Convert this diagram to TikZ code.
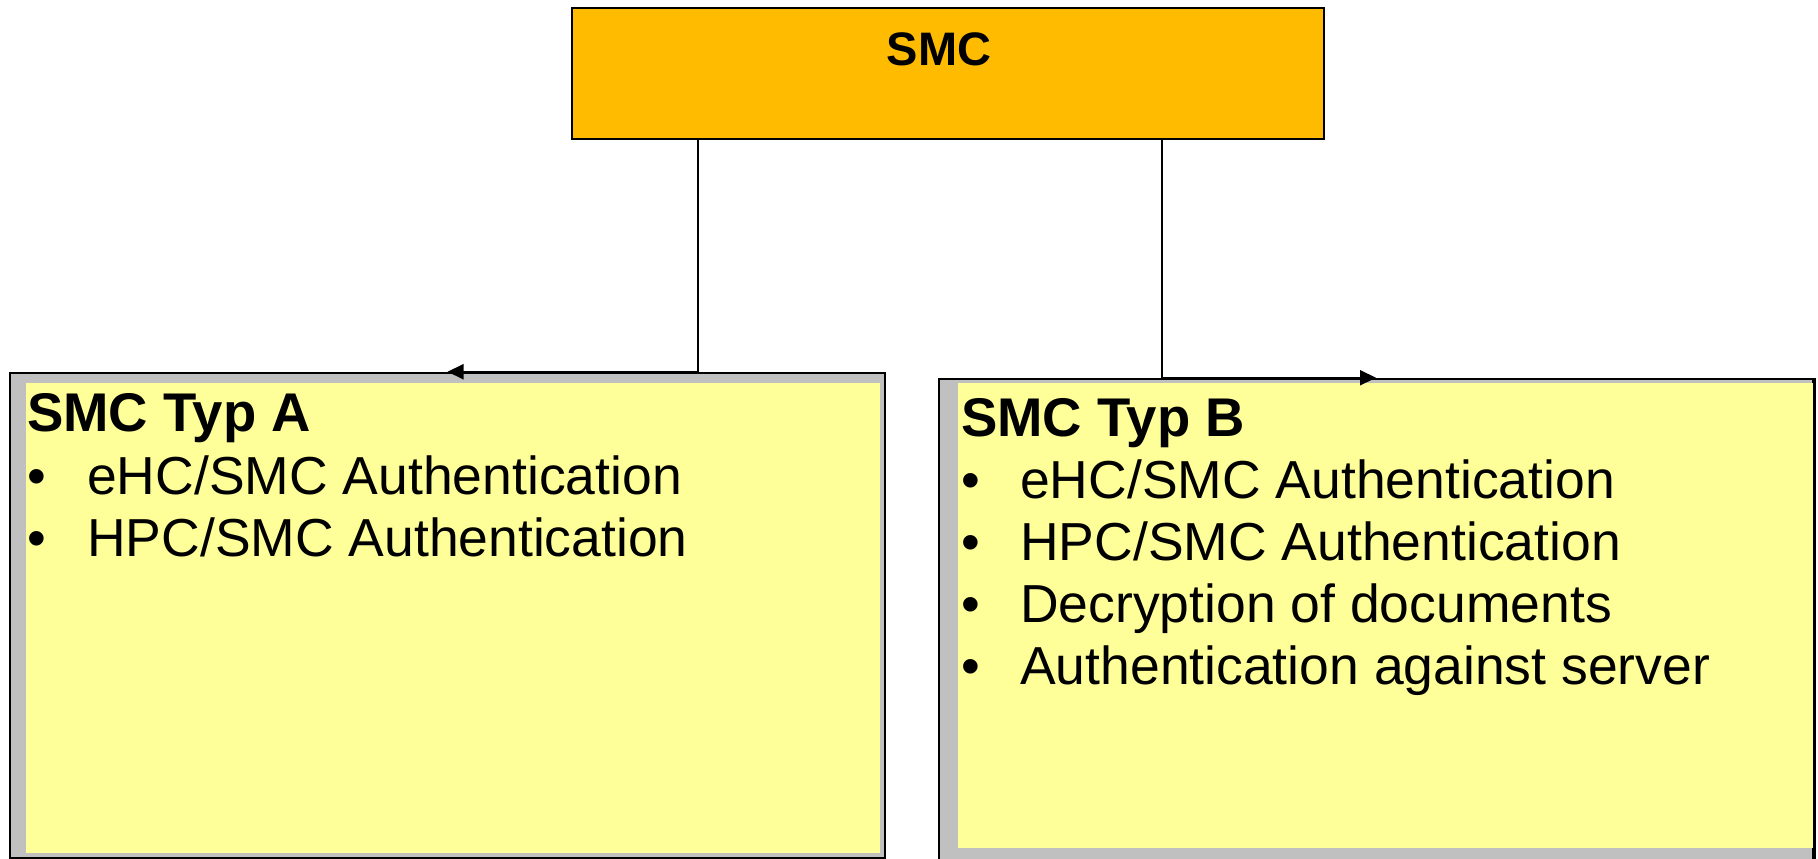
\documentclass[tikz,border=0pt]{standalone}
\usepackage{fontspec}
\setmainfont{Liberation Sans}
\usetikzlibrary{arrows.meta}
\definecolor{smcorange}{HTML}{FFBB00}
\definecolor{cardyellow}{HTML}{FFFF99}
\definecolor{shadowgray}{HTML}{C0C0C0}
\tikzset{
  topbox/.style={draw=black, line width=2.5pt, fill=smcorange, inner sep=0pt, rectangle},
  cardframe/.style={draw=black, line width=2.5pt, fill=shadowgray, inner sep=0pt, rectangle},
  cardfill/.style={fill=cardyellow, draw=none, inner sep=0pt, rectangle},
  cardtitle/.style={inner sep=0pt, anchor=base west, font=\fontsize{54.5}{62}\selectfont\bfseries},
  carditem/.style={inner sep=0pt, anchor=base west, font=\fontsize{53.5}{62}\selectfont},
  conn/.style={draw=black, line width=2pt, -{Triangle[length=16pt,width=15pt]}}
}
\begin{document}
\begin{tikzpicture}[x=1pt,y=-1pt]
\useasboundingbox (0,0) rectangle (1818,859);
\clip (0,0) rectangle (1818,859);
\fill[white] (0,0) rectangle (1818,859);

% top box
\node[topbox, minimum width=752pt, minimum height=131pt] (smc) at (948,73.5) {};
\node[inner sep=0pt, anchor=base, font=\fontsize{47}{56}\selectfont\bfseries] (smcl) at (939,66) {SMC};

% box A
\node[cardframe, minimum width=875pt, minimum height=485pt] (boxA) at (447.5,615.5) {};
\node[cardfill, minimum width=854pt, minimum height=470pt] (fillA) at (453,618) {};
\node[cardtitle] (tA) at (27,431) {SMC Typ A};
\node[carditem] (bA1) at (27,494) {•};
\node[carditem] (iA1) at (87,494) {eHC/SMC Authentication};
\node[carditem] (bA2) at (27,556) {•};
\node[carditem] (iA2) at (87,556) {HPC/SMC Authentication};

% box B
\node[cardframe, minimum width=874pt, minimum height=491pt] (boxB) at (1376,624.5) {};
\node[cardfill, minimum width=855pt, minimum height=465pt] (fillB) at (1385.5,615.5) {};
\node[cardtitle] (tB) at (961,436) {SMC Typ B};
\node[carditem] (bB1) at (961,498) {•};
\node[carditem] (iB1) at (1020,498) {eHC/SMC Authentication};
\node[carditem] (bB2) at (961,560) {•};
\node[carditem] (iB2) at (1020,560) {HPC/SMC Authentication};
\node[carditem] (bB3) at (961,622) {•};
\node[carditem] (iB3) at (1020,622) {Decryption of documents};
\node[carditem] (bB4) at (961,684) {•};
\node[carditem] (iB4) at (1020,684) {Authentication against server};
\draw[black, line width=2.5pt] (boxB.north east) -- (boxB.south east);

% connectors
\coordinate (jA) at (698,0);
\coordinate (jB) at (1162,0);
\draw[conn] (smc.south -| jA) |- (boxA.north);
\draw[conn] (smc.south -| jB) |- (boxB.north);
\end{tikzpicture}
\end{document}
